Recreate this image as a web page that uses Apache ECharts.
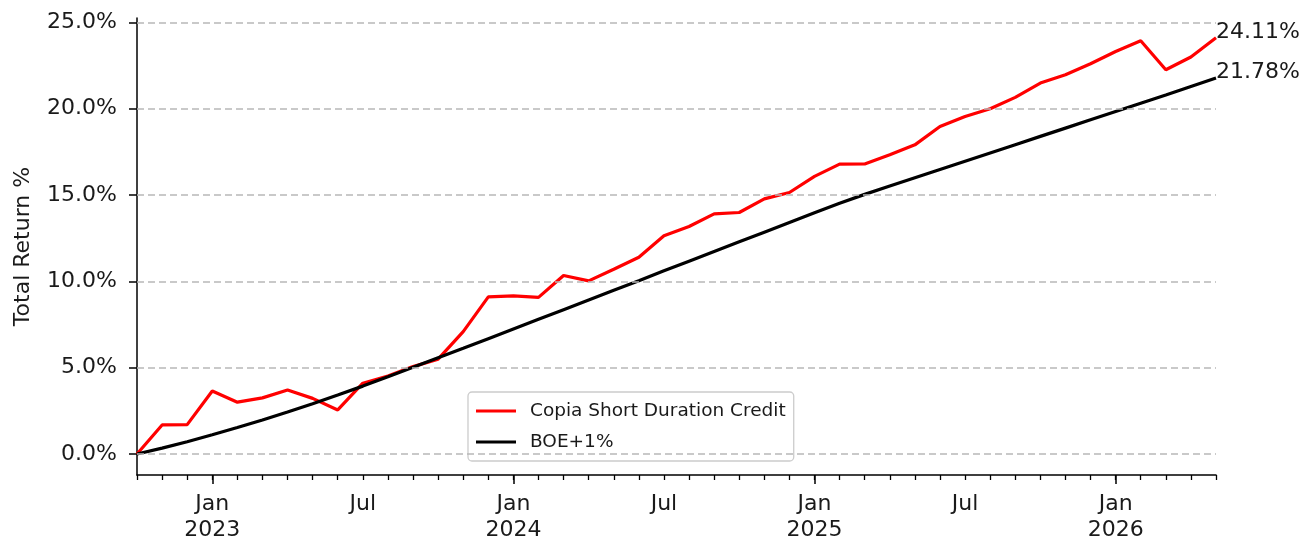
<!DOCTYPE html>
<html><head><meta charset="utf-8">
<script src="https://cdn.jsdelivr.net/npm/echarts@6/dist/echarts.min.js"></script>
<style>html,body{margin:0;padding:0;background:#fff}#c{width:1302px;height:539px}</style>
</head><body><div id="c"></div>
<script>
const months = ['2022-10','2022-11','2022-12','2023-01','2023-02','2023-03','2023-04','2023-05','2023-06','2023-07','2023-08','2023-09','2023-10','2023-11','2023-12',
  '2024-01','2024-02','2024-03','2024-04','2024-05','2024-06','2024-07','2024-08','2024-09','2024-10','2024-11','2024-12',
  '2025-01','2025-02','2025-03','2025-04','2025-05','2025-06','2025-07','2025-08','2025-09','2025-10','2025-11','2025-12',
  '2026-01','2026-02','2026-03','2026-04','2026-05'];
const copia = [0, 1.68, 1.70, 3.65, 3.00, 3.25, 3.70, 3.22, 2.55, 4.10, 4.52, 5.06, 5.49, 7.09, 9.10,
  9.16, 9.07, 10.34, 10.03, 10.70, 11.40, 12.64, 13.18, 13.91, 13.99, 14.78, 15.15,
  16.08, 16.79, 16.80, 17.33, 17.91, 18.97, 19.55, 20.00, 20.66, 21.49, 21.97, 22.61,
  23.32, 23.94, 22.26, 23.00, 24.11];
const boe = [0, 0.34, 0.71, 1.11, 1.53, 1.97, 2.43, 2.91, 3.41, 3.93, 4.47, 5.02, 5.57, 6.12, 6.68,
  7.24, 7.80, 8.36, 8.92, 9.48, 10.04, 10.61, 11.17, 11.73, 12.29, 12.85, 13.41,
  13.97, 14.52, 15.04, 15.52, 16.00, 16.48, 16.96, 17.44, 17.92, 18.40, 18.88, 19.36,
  19.84, 20.32, 20.80, 21.29, 21.78];
const yTicks = [0, 5, 10, 15, 20, 25];
const labelMonths = ['2023-01','2023-07','2024-01','2024-07','2025-01','2025-07','2026-01'];
const labelTexts = ['Jan\n2023','Jul','Jan\n2024','Jul','Jan\n2025','Jul','Jan\n2026'];
const majorTickMonths = ['2023-01','2024-01','2025-01','2026-01'];
const seriesNames = ['Copia Short Duration Credit', 'BOE+1%'];

const FONT = 'DejaVu Sans';
const TXT = '#1a1a1a';
const FS = 22;
const chart = echarts.init(document.getElementById('c'), null, {renderer: 'canvas'});
const endLabel = {
  show: true,
  formatter: p => (Array.isArray(p.value) ? p.value[1] : p.value).toFixed(2) + '%',
  color: TXT, fontFamily: FONT, fontSize: FS,
  distance: 0, offset: [0, -6]
};
const option = {
  animation: false,
  grid: {left: 137, right: 86, top: 18, bottom: 64, containLabel: false, outerBoundsMode: 'none'},
  legend: {
    data: seriesNames, orient: 'vertical', left: 468, top: 392,
    padding: [8, 8, 8, 8], itemWidth: 40, itemHeight: 3, itemGap: 9, icon: 'rect',
    backgroundColor: '#ffffff', borderColor: '#cccccc', borderWidth: 1.3, borderRadius: 4,
    textStyle: {fontFamily: FONT, fontSize: 18.5, lineHeight: 22, color: TXT, padding: [0, 0, 0, 9]}
  },
  xAxis: [
    {
      type: 'category', data: months, boundaryGap: false,
      axisLine: {onZero: false, lineStyle: {color: '#000', width: 1.5}},
      axisTick: {interval: 0, length: 5, lineStyle: {color: '#000', width: 1.3}},
      axisLabel: {
        interval: 0, margin: 16, color: TXT, fontFamily: FONT, fontSize: FS, lineHeight: 26,
        formatter: v => { const i = labelMonths.indexOf(v); return i < 0 ? '' : labelTexts[i]; }
      },
      splitLine: {show: false}
    },
    {
      type: 'category', data: months, boundaryGap: false, position: 'bottom',
      axisLine: {show: false, onZero: false},
      axisTick: {interval: (i, v) => majorTickMonths.includes(v), length: 9, lineStyle: {color: '#000', width: 1.5}},
      axisLabel: {show: false}, splitLine: {show: false}
    }
  ],
  yAxis: {
    type: 'value', min: -1.22, max: 25.26,
    name: 'Total Return %', nameLocation: 'middle', nameGap: 103,
    nameTextStyle: {fontFamily: FONT, fontSize: FS, color: TXT},
    axisLine: {show: true, lineStyle: {color: '#000', width: 1.5}},
    axisTick: {show: true, length: 8, customValues: yTicks, lineStyle: {color: '#000', width: 1.5}},
    axisLabel: {customValues: yTicks, margin: 20, color: TXT, fontFamily: FONT, fontSize: FS,
      formatter: v => v.toFixed(1) + '%'},
    splitLine: {show: false}
  },
  series: [
    {
      name: '_grid', type: 'line', data: [], z: 1, silent: true,
      markLine: {
        silent: true, symbol: 'none', animation: false, label: {show: false},
        lineStyle: {type: [7, 4], color: '#b8b8b8', width: 1.5},
        data: yTicks.map(v => ({yAxis: v}))
      }
    },
    {
      name: seriesNames[0], type: 'line', data: copia, symbol: 'none', z: 3,
      lineStyle: {color: '#ff0000', width: 3.2}, itemStyle: {color: '#ff0000'},
      endLabel: endLabel
    },
    {
      name: seriesNames[1], type: 'line', data: boe, symbol: 'none', z: 3,
      lineStyle: {color: '#000000', width: 3.2}, itemStyle: {color: '#000000'},
      endLabel: endLabel
    }
  ]
};
chart.setOption(option);
</script></body></html>
